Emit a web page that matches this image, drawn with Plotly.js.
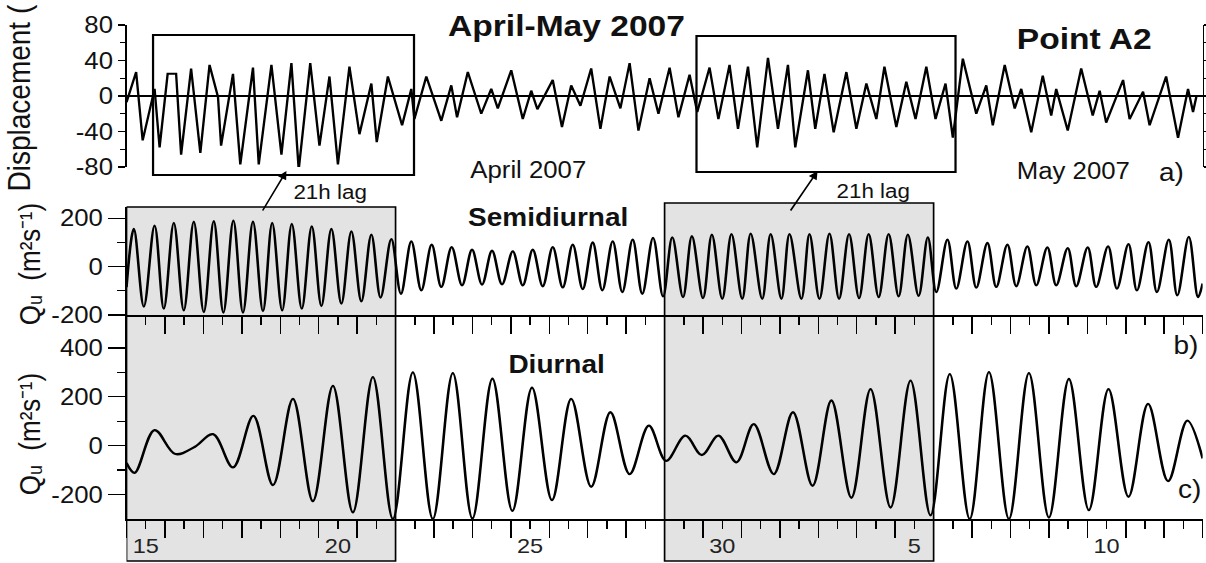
<!DOCTYPE html>
<html>
<head>
<meta charset="utf-8">
<script src="https://cdn.plot.ly/plotly-3.0.1.min.js"></script>
<style>
  html, body { margin: 0; padding: 0; background: #fff; overflow: hidden; }
  #wrap { width: 1206px; height: 563px; overflow: hidden; }
  #plot { width: 1077px; height: 563px; transform: scaleX(1.11978); transform-origin: 0 0; }
</style>
</head>
<body>
<div id="wrap"><div id="plot"></div></div>
<script>
// Day numbers count from 1 April 2007 (1 May = day 31).

// a) Displacement at point A2, turning points of the record
const aDay = [15.00, 15.25, 15.42, 15.73, 15.86, 16.07, 16.29, 16.42, 16.68, 16.92,
  17.16, 17.38, 17.46, 17.77, 17.96, 18.29, 18.44, 18.77, 19.03, 19.29,
  19.48, 19.78, 20.02, 20.28, 20.50, 20.80, 21.06, 21.37, 21.51, 21.80,
  22.17, 22.41, 22.49, 22.80, 23.19, 23.45, 23.60, 23.88, 24.23, 24.49,
  24.66, 25.01, 25.31, 25.53, 25.69, 26.09, 26.33, 26.57, 26.81, 27.09,
  27.33, 27.57, 27.85, 28.09, 28.32, 28.61, 28.84, 29.13, 29.36, 29.65,
  29.85, 30.17, 30.40, 30.69, 30.91, 31.17, 31.41, 31.69, 31.95, 32.21,
  32.40, 32.73, 32.92, 33.16, 33.40, 33.73, 33.99, 34.25, 34.51, 34.72,
  35.03, 35.29, 35.53, 35.81, 36.05, 36.31, 36.50, 36.76, 37.11, 37.37,
  37.54, 37.85, 38.11, 38.28, 38.54, 38.84, 39.06, 39.19, 39.49, 39.84,
  40.14, 40.32, 40.49, 40.93, 41.10, 41.45, 41.62, 42.05, 42.36, 42.62,
  42.75, 42.84];
const aDisp = [-7, 27, -50, 8, -58, 25, 25, -66, 31, -64,
  35, -1, -56, 25, -77, 32, -77, 35, -66, 37,
  -83, 37, -56, 22, -77, 33, -43, 14, -52, 22,
  -33, 8, -26, 22, -28, 12, -24, 27, -20, 8,
  -14, 29, -26, 6, -15, 18, -35, 12, -11, 31,
  -37, 22, -14, 37, -39, 20, -20, 32, -24, 24,
  -18, 32, -26, 35, -37, 33, -58, 43, -37, 35,
  -58, 29, -37, 25, -41, 27, -37, 14, -26, 33,
  -35, 16, -26, 33, -26, 14, -47, 42, -20, 12,
  -33, 35, -14, 8, -41, 23, -22, 8, -39, 31,
  -22, 6, -30, 18, -26, 5, -33, 22, -47, 8,
  -18, 0];

// b) Semidiurnal transport Qu, crests and troughs
const bDay = [15.00, 15.19, 15.45, 15.73, 15.97, 16.23, 16.49, 16.75, 17.01, 17.27,
  17.52, 17.78, 18.03, 18.29, 18.55, 18.79, 19.05, 19.30, 19.56, 19.82,
  20.07, 20.33, 20.59, 20.85, 21.11, 21.37, 21.61, 21.89, 22.14, 22.41,
  22.67, 22.94, 23.19, 23.46, 23.73, 23.99, 24.25, 24.51, 24.77, 25.05,
  25.31, 25.57, 25.83, 26.09, 26.35, 26.61, 26.87, 27.13, 27.38, 27.65,
  27.90, 28.17, 28.42, 28.70, 28.96, 29.20, 29.48, 29.71, 30.00, 30.23,
  30.50, 30.74, 31.02, 31.24, 31.54, 31.76, 32.04, 32.25, 32.56, 32.77,
  33.03, 33.29, 33.54, 33.80, 34.06, 34.31, 34.57, 34.83, 35.09, 35.33,
  35.61, 35.85, 36.07, 36.36, 36.59, 36.88, 37.11, 37.40, 37.63, 37.92,
  38.15, 38.44, 38.67, 38.96, 39.19, 39.49, 39.71, 40.01, 40.23, 40.54,
  40.77, 41.07, 41.29, 41.59, 41.81, 42.12, 42.34, 42.64, 42.88, 43.00];
const bQ = [-85, 156, -165, 170, -174, 181, -181, 186, -188, 188,
  -190, 191, -190, 186, -184, 181, -181, 177, -174, 167,
  -163, 156, -153, 146, -144, 133, -128, 114, -112, 105,
  -98, 91, -84, 81, -77, 70, -74, 66, -73, 63,
  -77, 70, -81, 81, -86, 91, -93, 100, -98, 105,
  -105, 112, -112, 119, -123, 121, -126, 126, -130, 133,
  -133, 135, -133, 137, -133, 135, -133, 135, -133, 135,
  -133, 137, -133, 135, -130, 135, -126, 135, -123, 133,
  -121, 121, -105, 112, -91, 105, -87, 98, -84, 91,
  -81, 84, -77, 80, -77, 77, -81, 80, -84, 84,
  -91, 93, -98, 102, -105, 112, -119, 123, -126, -70];

// c) Diurnal transport Qu, crests and troughs
const cDay = [15.00, 15.21, 15.73, 16.27, 16.77, 17.25, 17.77, 18.30, 18.81, 19.33,
  19.85, 20.37, 20.89, 21.41, 21.93, 22.45, 22.97, 23.49, 24.00, 24.52,
  25.04, 25.55, 26.07, 26.57, 27.09, 27.59, 28.09, 28.59, 29.04, 29.54,
  29.97, 30.40, 30.87, 31.32, 31.84, 32.34, 32.85, 33.34, 33.86, 34.36,
  34.88, 35.40, 35.92, 36.42, 36.94, 37.44, 37.96, 38.48, 39.00, 39.52,
  40.04, 40.55, 41.07, 41.58, 42.10, 42.60, 43.00];
const cQ = [-71, -111, 64, -34, -5, 47, -89, 122, -161, 192,
  -227, 245, -273, 281, -300, 300, -300, 297, -298, 274,
  -267, 238, -223, 192, -168, 137, -116, 82, -62, 41,
  -38, 41, -68, 88, -116, 137, -164, 185, -213, 232,
  -253, 266, -285, 293, -300, 301, -300, 297, -294, 273,
  -264, 232, -209, 171, -145, 103, -52];

// Day-of-month labels, centred on each labelled day
const dayLabelPos = [15.5, 20.5, 25.5, 30.5, 35.5, 40.5];
const dayLabelText = ['15', '20', '25', '30', '5', '10'];

// Value axis ticks and their printed labels (plain hyphen minus)
const aTicks = [-80, -40, 0, 40, 80];
const aTickText = ['-80', '-40', '0', '40', '80'];
const bTicks = [-200, 0, 200];
const bTickText = ['-200', '0', '200'];
const cTicks = [-200, 0, 200, 400];
const cTickText = ['-200', '0', '200', '400'];

// Periods compared in a), b) and c)
const springs = [[15, 22], [29, 36]];

const FONT = 'Liberation Sans, Arial, sans-serif';
const H = 563;
const py = v => (H - v) / H;           // page row (px) -> paper fraction

const traces = [
  { x: aDay, y: aDisp, xaxis: 'x3', yaxis: 'y3', type: 'scatter', mode: 'lines',
    line: { color: '#000', width: 2.1 }, hoverinfo: 'skip' },
  { x: bDay, y: bQ, xaxis: 'x2', yaxis: 'y2', type: 'scatter', mode: 'lines',
    line: { color: '#000', width: 2.3, shape: 'spline', smoothing: 1 }, hoverinfo: 'skip' },
  { x: cDay, y: cQ, xaxis: 'x', yaxis: 'y', type: 'scatter', mode: 'lines',
    line: { color: '#000', width: 2.3, shape: 'spline', smoothing: 1 }, hoverinfo: 'skip' },
  { x: [], y: [], xaxis: 'x4', yaxis: 'y', type: 'scatter', mode: 'lines', hoverinfo: 'skip' }
];

const xBase = {
  range: [15, 43], showgrid: false, zeroline: false, fixedrange: true
};
const dayTicks = Object.assign({}, xBase, {
  showline: true, linecolor: '#000', linewidth: 1.5,
  tickmode: 'linear', tick0: 15, dtick: 1, ticks: 'outside', ticklen: 17,
  tickwidth: 1.3, tickcolor: '#000', showticklabels: false,
  minor: { tick0: 15.5, dtick: 1, ticks: 'outside', ticklen: 8, tickwidth: 1.3, tickcolor: '#000' }
});

function yAxis(dom, range, major, labels, minor, len, mlen, extra) {
  return Object.assign({
    domain: dom, range: range, showgrid: false, zeroline: false, fixedrange: true,
    showline: true, linecolor: '#000', linewidth: 1.5,
    tickmode: 'array', tickvals: major, ticktext: labels, ticks: 'outside', ticklen: len,
    tickwidth: 1.3, tickcolor: '#000',
    tickfont: { family: FONT, size: 23, color: '#111' },
    minor: { tickmode: 'array', tickvals: minor, ticks: 'outside', ticklen: mlen,
             tickwidth: 1.3, tickcolor: '#000' }
  }, extra || {});
}

const shapes = [];
springs.forEach((s, i) => {
  shapes.push({ type: 'rect', xref: 'x', yref: 'paper', x0: s[0], x1: s[1],
    y0: py(561), y1: py(i === 0 ? 207 : 203), layer: 'below',
    fillcolor: '#e3e3e3', line: { color: '#000', width: 1.5 } });
});
// lagged windows on the displacement record
shapes.push({ type: 'rect', xref: 'x', yref: 'paper', x0: 15.69, x1: 22.48,
  y0: py(175), y1: py(35), line: { color: '#000', width: 2 } });
shapes.push({ type: 'rect', xref: 'x', yref: 'paper', x0: 29.83, x1: 36.57,
  y0: py(172), y1: py(36), line: { color: '#000', width: 2 } });

function txt(x, y, text, size, extra) {
  return Object.assign({ xref: 'x', yref: 'paper', x: x, y: y, text: text,
    showarrow: false, xanchor: 'center', yanchor: 'middle',
    font: { family: FONT, size: size, color: '#111' } }, extra || {});
}

const qLabel = 'Q\u1D64  (m\u00B2s\u207B\u00B9)';
const annotations = [
  txt(26.44, py(26), '<b>April-May 2007</b>', 30),
  txt(39.93, py(39), '<b>Point A2</b>', 30),
  txt(25.47, py(170), 'April 2007', 23),
  txt(39.64, py(171), 'May 2007', 23),
  txt(42.19, py(172), 'a)', 25),
  txt(20.31, py(192), '21h lag', 20),
  txt(34.43, py(191), '21h lag', 20),
  txt(25.97, py(217), '<b>Semidiurnal</b>', 25),
  txt(26.18, py(364), '<b>Diurnal</b>', 25),
  txt(42.56, py(345), 'b)', 25),
  txt(42.66, py(489), 'c)', 25),
  txt(-0.0994, py(98), 'Displacement (', 28, { xref: 'paper', textangle: -90 }),
  txt(-0.090, py(264), qLabel, 26, { xref: 'paper', textangle: -90 }),
  txt(-0.090, py(434), qLabel, 26, { xref: 'paper', textangle: -90 }),
  // lag arrows from the filtered transport up to the displacement windows
  { xref: 'x', yref: 'paper', x: 19.16, y: py(171), ax: -22, ay: 41, text: '',
    showarrow: true, arrowhead: 2, arrowsize: 1.1, arrowwidth: 1.5, arrowcolor: '#000', standoff: 0 },
  { xref: 'x', yref: 'paper', x: 32.98, y: py(171), ax: -25, ay: 41, text: '',
    showarrow: true, arrowhead: 2, arrowsize: 1.1, arrowwidth: 1.5, arrowcolor: '#000', standoff: 0 }
];

const layout = {
  width: 1077, height: H, autosize: false,
  margin: { l: 113, r: 3, t: 0, b: 0, pad: 0 },
  paper_bgcolor: '#fff', plot_bgcolor: 'rgba(0,0,0,0)',
  showlegend: false,
  font: { family: FONT, color: '#111' },
  xaxis: Object.assign({}, dayTicks, { domain: [0, 1], anchor: 'y' }),
  xaxis2: Object.assign({}, dayTicks, { domain: [0, 1], anchor: 'y2' }),
  xaxis3: Object.assign({}, xBase, { domain: [0, 1], anchor: 'y3', visible: false }),
  xaxis4: Object.assign({}, xBase, {
    overlaying: 'x', anchor: 'y', side: 'bottom', showline: false,
    tickmode: 'array', tickvals: dayLabelPos, ticktext: dayLabelText,
    ticks: 'outside', ticklen: 8, tickcolor: 'rgba(0,0,0,0)',
    tickfont: { family: FONT, size: 21, color: '#222' }
  }),
  yaxis: yAxis([py(519), py(315)], [-300, 535], cTicks, cTickText, [-100, 100, 300], 15, 7,
    { anchor: 'x' }),
  yaxis2: yAxis([py(315), py(207)], [-200, 247], bTicks, bTickText, [-100, 100], 15, 7,
    { anchor: 'x2' }),
  yaxis3: yAxis([py(167), py(25)], [-80, 80], aTicks, aTickText, [-60, -20, 20, 60], 6, 4,
    { anchor: 'x3', mirror: 'ticks', zeroline: true, zerolinecolor: '#000', zerolinewidth: 1.5 }),
  shapes: shapes,
  annotations: annotations
};

Plotly.newPlot('plot', traces, layout, { staticPlot: true, displayModeBar: false });
</script>
</body>
</html>
